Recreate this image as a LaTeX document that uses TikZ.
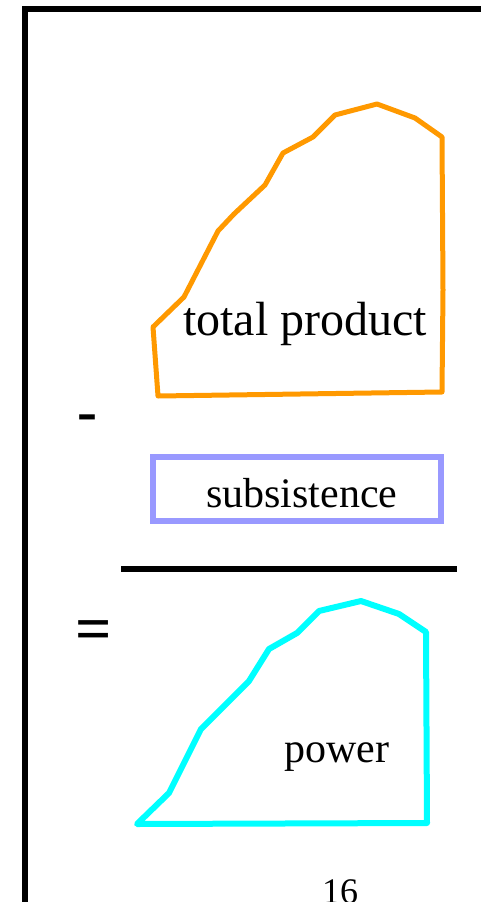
\documentclass[tikz,border=0pt]{standalone}
\usepackage{fontspec}
\setmainfont{Liberation Serif}
\definecolor{tporange}{HTML}{FF9900}
\definecolor{subblue}{HTML}{9999FF}
\definecolor{powcyan}{HTML}{00FFFF}
\tikzset{
  frameline/.style={line width=6pt, black},
  blob/.style={line width=5pt, line join=round, line cap=round},
  lbl/.style={inner sep=0pt, anchor=base west},
}
\begin{document}
\begin{tikzpicture}[x=1pt,y=-1pt]
\useasboundingbox (0,0) rectangle (481,902);
% frame
\draw[frameline] (25,903) -- (25,9) -- (482,9);
% total product blob
\draw[blob, tporange] (153,327) -- (184,297) -- (218,231) -- (234,214) -- (265,185) -- (283,153) -- (313,137) -- (335,115) -- (377,104) -- (415,118) -- (442,137) -- (443,290) -- (442,392) -- (158,396) -- cycle;
\node[lbl, font=\fontsize{48}{56}\selectfont] (tp) at (183,335) {total product};
% minus
\node[inner sep=0pt, anchor=base, font=\fontsize{60}{66}\selectfont\bfseries] (minus) at (87,431) {-};
% subsistence box
\draw[line width=6pt, subblue] (153,457) rectangle (441,521);
\node[lbl, font=\fontsize{42}{50}\selectfont] (sub) at (206,507) {subsistence};
% rule
\draw[line width=6pt] (121,569) -- (457,569);
% equals
\node[inner sep=0pt, font=\fontsize{64}{70}\selectfont\bfseries] (eq) at (94,636) {=};
% power blob
\draw[blob, powcyan, line width=6pt] (137,824) -- (169,793) -- (201,729) -- (249,681) -- (269,649) -- (297,633) -- (319,611) -- (361,601) -- (399,614) -- (426,632) -- (427,823) -- cycle;
\node[lbl, font=\fontsize{42}{50}\selectfont] (pow) at (284,762) {power};
% page number
\node[lbl, font=\fontsize{36}{42}\selectfont] (num) at (322,903) {16};
\end{tikzpicture}
\end{document}
